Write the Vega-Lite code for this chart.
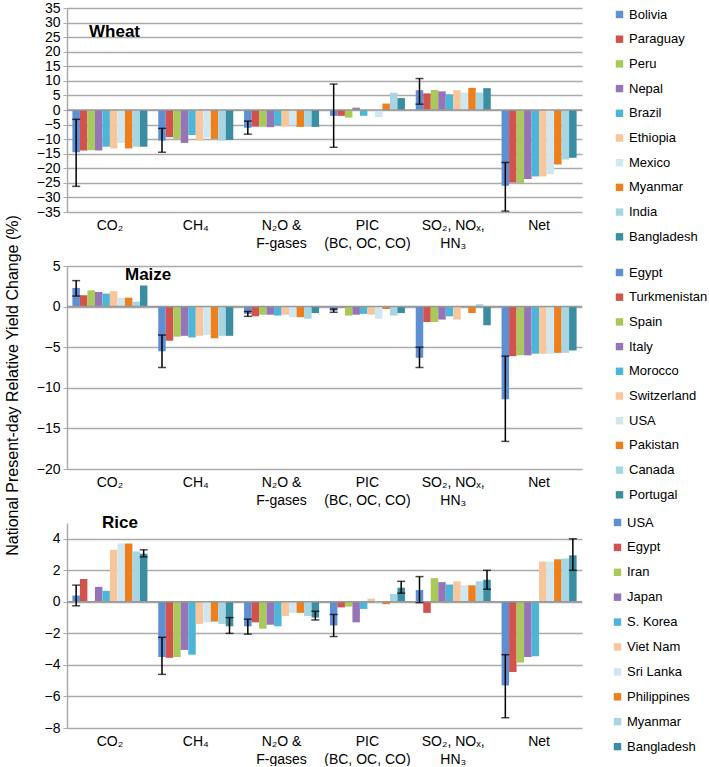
{
  "$schema": "https://vega.github.io/schema/vega-lite/v6.json",
  "background": "white",
  "padding": {"left": 4, "top": 1, "right": 0, "bottom": 0},
  "config": {"font": "Liberation Sans", "view": {"stroke": null}},
  "spacing": 54,
  "bounds": "flush",
  "resolve": {"scale": {"color": "independent", "xOffset": "independent", "y": "independent", "x": "independent"}, "legend": {"color": "independent"}},
  "vconcat": [
    {
      "width": 515, "height": 204,
      "title": {"text": "Wheat", "anchor": "start", "frame": "group", "offset": -40, "dx": 22, "fontSize": 17, "fontWeight": "bold", "color": "#000"},
      "data": {"values": [
        {"c":"CO₂","n":"Bolivia","v":-14.5,"lo":-26.2,"hi":-3.2},{"c":"CO₂","n":"Paraguay","v":-13.9},{"c":"CO₂","n":"Peru","v":-13.8},{"c":"CO₂","n":"Nepal","v":-13.9},{"c":"CO₂","n":"Brazil","v":-12.6},{"c":"CO₂","n":"Ethiopia","v":-13.2},{"c":"CO₂","n":"Mexico","v":-11.3},{"c":"CO₂","n":"Myanmar","v":-13.2},{"c":"CO₂","n":"India","v":-12.6},{"c":"CO₂","n":"Bangladesh","v":-12.6},
        {"c":"CH₄","n":"Bolivia","v":-10.5,"lo":-14.5,"hi":-6.3},{"c":"CH₄","n":"Paraguay","v":-9.3},{"c":"CH₄","n":"Peru","v":-9.9},{"c":"CH₄","n":"Nepal","v":-11.3},{"c":"CH₄","n":"Brazil","v":-8.6},{"c":"CH₄","n":"Ethiopia","v":-10.5},{"c":"CH₄","n":"Mexico","v":-9.5},{"c":"CH₄","n":"Myanmar","v":-9.9},{"c":"CH₄","n":"India","v":-10.5},{"c":"CH₄","n":"Bangladesh","v":-10.3},
        {"c":"N₂O &|F-gases","n":"Bolivia","v":-6.1,"lo":-8.3,"hi":-3.8},{"c":"N₂O &|F-gases","n":"Paraguay","v":-5.7},{"c":"N₂O &|F-gases","n":"Peru","v":-5.7},{"c":"N₂O &|F-gases","n":"Nepal","v":-5.9},{"c":"N₂O &|F-gases","n":"Brazil","v":-5.2},{"c":"N₂O &|F-gases","n":"Ethiopia","v":-5.7},{"c":"N₂O &|F-gases","n":"Mexico","v":-5.3},{"c":"N₂O &|F-gases","n":"Myanmar","v":-5.8},{"c":"N₂O &|F-gases","n":"India","v":-5.7},{"c":"N₂O &|F-gases","n":"Bangladesh","v":-5.8},
        {"c":"PIC|(BC, OC, CO)","n":"Bolivia","v":-2.0,"lo":-12.8,"hi":8.9},{"c":"PIC|(BC, OC, CO)","n":"Paraguay","v":-2.0},{"c":"PIC|(BC, OC, CO)","n":"Peru","v":-2.6},{"c":"PIC|(BC, OC, CO)","n":"Nepal","v":0.8},{"c":"PIC|(BC, OC, CO)","n":"Brazil","v":-2.0},{"c":"PIC|(BC, OC, CO)","n":"Ethiopia","v":-0.3},{"c":"PIC|(BC, OC, CO)","n":"Mexico","v":-2.4},{"c":"PIC|(BC, OC, CO)","n":"Myanmar","v":2.2},{"c":"PIC|(BC, OC, CO)","n":"India","v":5.9},{"c":"PIC|(BC, OC, CO)","n":"Bangladesh","v":4.1},
        {"c":"SO₂, NOₓ,|HN₃","n":"Bolivia","v":6.8,"lo":2.0,"hi":10.8},{"c":"SO₂, NOₓ,|HN₃","n":"Paraguay","v":5.7},{"c":"SO₂, NOₓ,|HN₃","n":"Peru","v":6.9},{"c":"SO₂, NOₓ,|HN₃","n":"Nepal","v":6.4},{"c":"SO₂, NOₓ,|HN₃","n":"Brazil","v":5.4},{"c":"SO₂, NOₓ,|HN₃","n":"Ethiopia","v":6.8},{"c":"SO₂, NOₓ,|HN₃","n":"Mexico","v":6.0},{"c":"SO₂, NOₓ,|HN₃","n":"Myanmar","v":7.6},{"c":"SO₂, NOₓ,|HN₃","n":"India","v":6.0},{"c":"SO₂, NOₓ,|HN₃","n":"Bangladesh","v":7.5},
        {"c":"Net","n":"Bolivia","v":-26.0,"lo":-34.7,"hi":-18.0},{"c":"Net","n":"Paraguay","v":-24.9},{"c":"Net","n":"Peru","v":-25.1},{"c":"Net","n":"Nepal","v":-23.7},{"c":"Net","n":"Brazil","v":-22.8},{"c":"Net","n":"Ethiopia","v":-22.8},{"c":"Net","n":"Mexico","v":-22.0},{"c":"Net","n":"Myanmar","v":-18.7},{"c":"Net","n":"India","v":-17.0},{"c":"Net","n":"Bangladesh","v":-16.4}
      ]},
      "layer": [
        {"mark": {"type": "bar"},
         "encoding": {
           "x": {"field": "c", "type": "nominal", "sort": ["CO₂","CH₄","N₂O &|F-gases","PIC|(BC, OC, CO)","SO₂, NOₓ,|HN₃","Net"], "scale": {"paddingInner": 0.126, "paddingOuter": 0.063},
                 "axis": {"title": null, "labelAngle": 0, "domain": false, "ticks": false, "labelExpr": "split(datum.label, '|')", "labelFontSize": 14, "labelPadding": 6, "labelColor": "#000", "labelLineHeight": 18}},
           "xOffset": {"field": "n", "type": "nominal", "sort": ["Bolivia","Paraguay","Peru","Nepal","Brazil","Ethiopia","Mexico","Myanmar","India","Bangladesh"], "scale": {"paddingInner": 0, "paddingOuter": 0}},
           "y": {"field": "v", "type": "quantitative", "scale": {"domain": [-35, 35], "nice": false},
                 "axis": {"title": "National Present-day Relative Yield Change (%)", "titleFontSize": 16, "titleFontWeight": "normal", "titleColor": "#000", "titlePadding": 16, "titleY": 377, "values": [-35,-30,-25,-20,-15,-10,-5,0,5,10,15,20,25,30,35], "format": "d", "tickCount": 30, "labelOverlap": false, "grid": true, "gridColor": "#ababab", "gridWidth": 1.5, "domainColor": "#ababab", "domainWidth": 1.5, "tickColor": "#ababab", "tickSize": 4, "labelFontSize": 14, "labelColor": "#000", "labelPadding": 3}},
           "color": {"field": "n", "type": "nominal", "sort": ["Bolivia","Paraguay","Peru","Nepal","Brazil","Ethiopia","Mexico","Myanmar","India","Bangladesh"],
                     "scale": {"range": ["#5e8fd3","#d2524e","#a9c95b","#9575b8","#4db6d6","#f8c69a","#cfe7f0","#ee7f1d","#a6d6e4","#3b8da2"]},
                     "legend": {"title": null, "symbolType": "square", "symbolSize": 55, "labelFontSize": 13, "labelColor": "#000", "rowPadding": 10.7, "offset": 31, "labelOffset": 3, "padding": 0}}
         }},
        {"data": {"values": [{"z": 0}]}, "mark": {"type": "rule", "color": "#9a9a9a", "strokeWidth": 1.5}, "encoding": {"y": {"field": "z", "type": "quantitative"}}},
        {"transform": [{"filter": "isValid(datum.lo)"}], "mark": {"type": "rule", "color": "#000", "strokeWidth": 1.5},
         "encoding": {"x": {"field": "c", "type": "nominal", "sort": ["CO₂","CH₄","N₂O &|F-gases","PIC|(BC, OC, CO)","SO₂, NOₓ,|HN₃","Net"]},
                      "xOffset": {"field": "n", "type": "nominal", "sort": ["Bolivia","Paraguay","Peru","Nepal","Brazil","Ethiopia","Mexico","Myanmar","India","Bangladesh"]},
                      "y": {"field": "lo", "type": "quantitative"}, "y2": {"field": "hi"}}},
        {"transform": [{"filter": "isValid(datum.lo)"}], "mark": {"type": "tick", "orient": "horizontal", "color": "#000", "size": 8, "thickness": 1.5},
         "encoding": {"x": {"field": "c", "type": "nominal", "sort": ["CO₂","CH₄","N₂O &|F-gases","PIC|(BC, OC, CO)","SO₂, NOₓ,|HN₃","Net"]},
                      "xOffset": {"field": "n", "type": "nominal", "sort": ["Bolivia","Paraguay","Peru","Nepal","Brazil","Ethiopia","Mexico","Myanmar","India","Bangladesh"]},
                      "y": {"field": "lo", "type": "quantitative"}}},
        {"transform": [{"filter": "isValid(datum.hi)"}], "mark": {"type": "tick", "orient": "horizontal", "color": "#000", "size": 8, "thickness": 1.5},
         "encoding": {"x": {"field": "c", "type": "nominal", "sort": ["CO₂","CH₄","N₂O &|F-gases","PIC|(BC, OC, CO)","SO₂, NOₓ,|HN₃","Net"]},
                      "xOffset": {"field": "n", "type": "nominal", "sort": ["Bolivia","Paraguay","Peru","Nepal","Brazil","Ethiopia","Mexico","Myanmar","India","Bangladesh"]},
                      "y": {"field": "hi", "type": "quantitative"}}}
      ]
    },
    {
      "width": 515, "height": 203,
      "title": {"text": "Maize", "anchor": "start", "frame": "group", "offset": -25, "dx": 58, "fontSize": 17, "fontWeight": "bold", "color": "#000"},
      "data": {"values": [
        {"c":"CO₂","n":"Egypt","v":2.3,"lo":1.3,"hi":3.2},{"c":"CO₂","n":"Turkmenistan","v":1.4},{"c":"CO₂","n":"Spain","v":2.0},{"c":"CO₂","n":"Italy","v":1.8},{"c":"CO₂","n":"Morocco","v":1.6},{"c":"CO₂","n":"Switzerland","v":1.9},{"c":"CO₂","n":"USA","v":1.1},{"c":"CO₂","n":"Pakistan","v":1.1},{"c":"CO₂","n":"Canada","v":0.6},{"c":"CO₂","n":"Portugal","v":2.6},
        {"c":"CH₄","n":"Egypt","v":-5.5,"lo":-7.5,"hi":-3.5},{"c":"CH₄","n":"Turkmenistan","v":-4.2},{"c":"CH₄","n":"Spain","v":-3.7},{"c":"CH₄","n":"Italy","v":-3.6},{"c":"CH₄","n":"Morocco","v":-3.8},{"c":"CH₄","n":"Switzerland","v":-3.6},{"c":"CH₄","n":"USA","v":-3.5},{"c":"CH₄","n":"Pakistan","v":-3.9},{"c":"CH₄","n":"Canada","v":-3.6},{"c":"CH₄","n":"Portugal","v":-3.6},
        {"c":"N₂O &|F-gases","n":"Egypt","v":-0.9,"lo":-1.2,"hi":-0.6},{"c":"N₂O &|F-gases","n":"Turkmenistan","v":-1.2},{"c":"N₂O &|F-gases","n":"Spain","v":-1.0},{"c":"N₂O &|F-gases","n":"Italy","v":-1.0},{"c":"N₂O &|F-gases","n":"Morocco","v":-1.1},{"c":"N₂O &|F-gases","n":"Switzerland","v":-1.0},{"c":"N₂O &|F-gases","n":"USA","v":-1.3},{"c":"N₂O &|F-gases","n":"Pakistan","v":-1.3},{"c":"N₂O &|F-gases","n":"Canada","v":-1.5},{"c":"N₂O &|F-gases","n":"Portugal","v":-0.8},
        {"c":"PIC|(BC, OC, CO)","n":"Egypt","v":-0.5,"lo":-0.7,"hi":-0.3},{"c":"PIC|(BC, OC, CO)","n":"Turkmenistan","v":-0.1},{"c":"PIC|(BC, OC, CO)","n":"Spain","v":-1.1},{"c":"PIC|(BC, OC, CO)","n":"Italy","v":-1.0},{"c":"PIC|(BC, OC, CO)","n":"Morocco","v":-0.9},{"c":"PIC|(BC, OC, CO)","n":"Switzerland","v":-1.0},{"c":"PIC|(BC, OC, CO)","n":"USA","v":-1.5},{"c":"PIC|(BC, OC, CO)","n":"Pakistan","v":-0.3},{"c":"PIC|(BC, OC, CO)","n":"Canada","v":-1.1},{"c":"PIC|(BC, OC, CO)","n":"Portugal","v":-0.8},
        {"c":"SO₂, NOₓ,|HN₃","n":"Egypt","v":-6.3,"lo":-7.5,"hi":-5.0},{"c":"SO₂, NOₓ,|HN₃","n":"Turkmenistan","v":-1.9},{"c":"SO₂, NOₓ,|HN₃","n":"Spain","v":-1.9},{"c":"SO₂, NOₓ,|HN₃","n":"Italy","v":-1.6},{"c":"SO₂, NOₓ,|HN₃","n":"Morocco","v":-1.2},{"c":"SO₂, NOₓ,|HN₃","n":"Switzerland","v":-1.6},{"c":"SO₂, NOₓ,|HN₃","n":"USA","v":0.1},{"c":"SO₂, NOₓ,|HN₃","n":"Pakistan","v":-0.8},{"c":"SO₂, NOₓ,|HN₃","n":"Canada","v":0.3},{"c":"SO₂, NOₓ,|HN₃","n":"Portugal","v":-2.3},
        {"c":"Net","n":"Egypt","v":-11.4,"lo":-16.6,"hi":-6.1},{"c":"Net","n":"Turkmenistan","v":-6.1},{"c":"Net","n":"Spain","v":-6.0},{"c":"Net","n":"Italy","v":-6.0},{"c":"Net","n":"Morocco","v":-5.8},{"c":"Net","n":"Switzerland","v":-5.8},{"c":"Net","n":"USA","v":-5.8},{"c":"Net","n":"Pakistan","v":-5.7},{"c":"Net","n":"Canada","v":-5.7},{"c":"Net","n":"Portugal","v":-5.4}
      ]},
      "layer": [
        {"mark": {"type": "bar"},
         "encoding": {
           "x": {"field": "c", "type": "nominal", "sort": ["CO₂","CH₄","N₂O &|F-gases","PIC|(BC, OC, CO)","SO₂, NOₓ,|HN₃","Net"], "scale": {"paddingInner": 0.126, "paddingOuter": 0.063},
                 "axis": {"title": null, "labelAngle": 0, "domain": false, "ticks": false, "labelExpr": "split(datum.label, '|')", "labelFontSize": 14, "labelPadding": 6, "labelColor": "#000", "labelLineHeight": 18}},
           "xOffset": {"field": "n", "type": "nominal", "sort": ["Egypt","Turkmenistan","Spain","Italy","Morocco","Switzerland","USA","Pakistan","Canada","Portugal"], "scale": {"paddingInner": 0, "paddingOuter": 0}},
           "y": {"field": "v", "type": "quantitative", "scale": {"domain": [-20, 5], "nice": false},
                 "axis": {"title": null, "values": [-20,-15,-10,-5,0,5], "format": "d", "tickCount": 30, "labelOverlap": false, "grid": true, "gridColor": "#ababab", "gridWidth": 1.5, "domainColor": "#ababab", "domainWidth": 1.5, "tickColor": "#ababab", "tickSize": 4, "labelFontSize": 14, "labelColor": "#000", "labelPadding": 3}},
           "color": {"field": "n", "type": "nominal", "sort": ["Egypt","Turkmenistan","Spain","Italy","Morocco","Switzerland","USA","Pakistan","Canada","Portugal"],
                     "scale": {"range": ["#5e8fd3","#d2524e","#a9c95b","#9575b8","#4db6d6","#f8c69a","#cfe7f0","#ee7f1d","#a6d6e4","#3b8da2"]},
                     "legend": {"title": null, "symbolType": "square", "symbolSize": 55, "labelFontSize": 13, "labelColor": "#000", "rowPadding": 10.7, "offset": 31, "labelOffset": 3, "padding": 0}}
         }},
        {"data": {"values": [{"z": 0}]}, "mark": {"type": "rule", "color": "#9a9a9a", "strokeWidth": 1.5}, "encoding": {"y": {"field": "z", "type": "quantitative"}}},
        {"transform": [{"filter": "isValid(datum.lo)"}], "mark": {"type": "rule", "color": "#000", "strokeWidth": 1.5},
         "encoding": {"x": {"field": "c", "type": "nominal", "sort": ["CO₂","CH₄","N₂O &|F-gases","PIC|(BC, OC, CO)","SO₂, NOₓ,|HN₃","Net"]},
                      "xOffset": {"field": "n", "type": "nominal", "sort": ["Egypt","Turkmenistan","Spain","Italy","Morocco","Switzerland","USA","Pakistan","Canada","Portugal"]},
                      "y": {"field": "lo", "type": "quantitative"}, "y2": {"field": "hi"}}},
        {"transform": [{"filter": "isValid(datum.lo)"}], "mark": {"type": "tick", "orient": "horizontal", "color": "#000", "size": 8, "thickness": 1.5},
         "encoding": {"x": {"field": "c", "type": "nominal", "sort": ["CO₂","CH₄","N₂O &|F-gases","PIC|(BC, OC, CO)","SO₂, NOₓ,|HN₃","Net"]},
                      "xOffset": {"field": "n", "type": "nominal", "sort": ["Egypt","Turkmenistan","Spain","Italy","Morocco","Switzerland","USA","Pakistan","Canada","Portugal"]},
                      "y": {"field": "lo", "type": "quantitative"}}},
        {"transform": [{"filter": "isValid(datum.hi)"}], "mark": {"type": "tick", "orient": "horizontal", "color": "#000", "size": 8, "thickness": 1.5},
         "encoding": {"x": {"field": "c", "type": "nominal", "sort": ["CO₂","CH₄","N₂O &|F-gases","PIC|(BC, OC, CO)","SO₂, NOₓ,|HN₃","Net"]},
                      "xOffset": {"field": "n", "type": "nominal", "sort": ["Egypt","Turkmenistan","Spain","Italy","Morocco","Switzerland","USA","Pakistan","Canada","Portugal"]},
                      "y": {"field": "hi", "type": "quantitative"}}}
      ]
    },
    {
      "width": 515, "height": 205,
      "title": {"text": "Rice", "anchor": "start", "frame": "group", "offset": -16, "dx": 35, "fontSize": 17, "fontWeight": "bold", "color": "#000"},
      "data": {"values": [
        {"c":"CO₂","n":"USA","v":0.4,"lo":-0.25,"hi":1.06},{"c":"CO₂","n":"Egypt","v":1.45},{"c":"CO₂","n":"Iran","v":0.05},{"c":"CO₂","n":"Japan","v":0.95},{"c":"CO₂","n":"S. Korea","v":0.7},{"c":"CO₂","n":"Viet Nam","v":3.3},{"c":"CO₂","n":"Sri Lanka","v":3.7},{"c":"CO₂","n":"Philippines","v":3.7},{"c":"CO₂","n":"Myanmar","v":3.2},{"c":"CO₂","n":"Bangladesh","v":3.05,"lo":2.85,"hi":3.3},
        {"c":"CH₄","n":"USA","v":-3.5,"lo":-4.6,"hi":-2.25},{"c":"CH₄","n":"Egypt","v":-3.55},{"c":"CH₄","n":"Iran","v":-3.5},{"c":"CH₄","n":"Japan","v":-3.05},{"c":"CH₄","n":"S. Korea","v":-3.35},{"c":"CH₄","n":"Viet Nam","v":-1.4},{"c":"CH₄","n":"Sri Lanka","v":-1.3},{"c":"CH₄","n":"Philippines","v":-1.25},{"c":"CH₄","n":"Myanmar","v":-1.4},{"c":"CH₄","n":"Bangladesh","v":-1.55,"lo":-2.0,"hi":-1.0},
        {"c":"N₂O &|F-gases","n":"USA","v":-1.55,"lo":-2.05,"hi":-1.1},{"c":"N₂O &|F-gases","n":"Egypt","v":-1.3},{"c":"N₂O &|F-gases","n":"Iran","v":-1.7},{"c":"N₂O &|F-gases","n":"Japan","v":-1.45},{"c":"N₂O &|F-gases","n":"S. Korea","v":-1.55},{"c":"N₂O &|F-gases","n":"Viet Nam","v":-0.9},{"c":"N₂O &|F-gases","n":"Sri Lanka","v":-0.7},{"c":"N₂O &|F-gases","n":"Philippines","v":-0.7},{"c":"N₂O &|F-gases","n":"Myanmar","v":-0.9},{"c":"N₂O &|F-gases","n":"Bangladesh","v":-1.0,"lo":-1.15,"hi":-0.6},
        {"c":"PIC|(BC, OC, CO)","n":"USA","v":-1.5,"lo":-2.2,"hi":-0.8},{"c":"PIC|(BC, OC, CO)","n":"Egypt","v":-0.35},{"c":"PIC|(BC, OC, CO)","n":"Iran","v":-0.3},{"c":"PIC|(BC, OC, CO)","n":"Japan","v":-1.3},{"c":"PIC|(BC, OC, CO)","n":"S. Korea","v":-0.45},{"c":"PIC|(BC, OC, CO)","n":"Viet Nam","v":0.2},{"c":"PIC|(BC, OC, CO)","n":"Sri Lanka","v":-0.15},{"c":"PIC|(BC, OC, CO)","n":"Philippines","v":-0.15},{"c":"PIC|(BC, OC, CO)","n":"Myanmar","v":0.5},{"c":"PIC|(BC, OC, CO)","n":"Bangladesh","v":0.9,"lo":0.55,"hi":1.3},
        {"c":"SO₂, NOₓ,|HN₃","n":"USA","v":0.75,"lo":-0.05,"hi":1.6},{"c":"SO₂, NOₓ,|HN₃","n":"Egypt","v":-0.7},{"c":"SO₂, NOₓ,|HN₃","n":"Iran","v":1.5},{"c":"SO₂, NOₓ,|HN₃","n":"Japan","v":1.25},{"c":"SO₂, NOₓ,|HN₃","n":"S. Korea","v":1.1},{"c":"SO₂, NOₓ,|HN₃","n":"Viet Nam","v":1.3},{"c":"SO₂, NOₓ,|HN₃","n":"Sri Lanka","v":1.05},{"c":"SO₂, NOₓ,|HN₃","n":"Philippines","v":1.05},{"c":"SO₂, NOₓ,|HN₃","n":"Myanmar","v":1.3},{"c":"SO₂, NOₓ,|HN₃","n":"Bangladesh","v":1.4,"lo":0.8,"hi":2.0},
        {"c":"Net","n":"USA","v":-5.3,"lo":-7.35,"hi":-3.35},{"c":"Net","n":"Egypt","v":-4.45},{"c":"Net","n":"Iran","v":-3.85},{"c":"Net","n":"Japan","v":-3.5},{"c":"Net","n":"S. Korea","v":-3.45},{"c":"Net","n":"Viet Nam","v":2.55},{"c":"Net","n":"Sri Lanka","v":2.55},{"c":"Net","n":"Philippines","v":2.7},{"c":"Net","n":"Myanmar","v":2.75},{"c":"Net","n":"Bangladesh","v":2.95,"lo":2.0,"hi":4.0}
      ]},
      "layer": [
        {"mark": {"type": "bar"},
         "encoding": {
           "x": {"field": "c", "type": "nominal", "sort": ["CO₂","CH₄","N₂O &|F-gases","PIC|(BC, OC, CO)","SO₂, NOₓ,|HN₃","Net"], "scale": {"paddingInner": 0.126, "paddingOuter": 0.063},
                 "axis": {"title": null, "labelAngle": 0, "domain": false, "ticks": false, "labelExpr": "split(datum.label, '|')", "labelFontSize": 14, "labelPadding": 6, "labelColor": "#000", "labelLineHeight": 18}},
           "xOffset": {"field": "n", "type": "nominal", "sort": ["USA","Egypt","Iran","Japan","S. Korea","Viet Nam","Sri Lanka","Philippines","Myanmar","Bangladesh"], "scale": {"paddingInner": 0, "paddingOuter": 0}},
           "y": {"field": "v", "type": "quantitative", "scale": {"domain": [-8, 5], "nice": false},
                 "axis": {"title": null, "values": [-8,-6,-4,-2,0,2,4], "format": "d", "tickCount": 30, "labelOverlap": false, "grid": true, "gridColor": "#ababab", "gridWidth": 1.5, "domainColor": "#ababab", "domainWidth": 1.5, "tickColor": "#ababab", "tickSize": 4, "labelFontSize": 14, "labelColor": "#000", "labelPadding": 3}},
           "color": {"field": "n", "type": "nominal", "sort": ["USA","Egypt","Iran","Japan","S. Korea","Viet Nam","Sri Lanka","Philippines","Myanmar","Bangladesh"],
                     "scale": {"range": ["#5e8fd3","#d2524e","#a9c95b","#9575b8","#4db6d6","#f8c69a","#cfe7f0","#ee7f1d","#a6d6e4","#3b8da2"]},
                     "legend": {"title": null, "symbolType": "square", "symbolSize": 55, "labelFontSize": 13, "labelColor": "#000", "rowPadding": 10.9, "orient": "none", "legendX": 544, "legendY": -7, "labelOffset": 3, "padding": 0}}
         }},
        {"data": {"values": [{"z": 0}]}, "mark": {"type": "rule", "color": "#9a9a9a", "strokeWidth": 1.5}, "encoding": {"y": {"field": "z", "type": "quantitative"}}},
        {"transform": [{"filter": "isValid(datum.lo)"}], "mark": {"type": "rule", "color": "#000", "strokeWidth": 1.5},
         "encoding": {"x": {"field": "c", "type": "nominal", "sort": ["CO₂","CH₄","N₂O &|F-gases","PIC|(BC, OC, CO)","SO₂, NOₓ,|HN₃","Net"]},
                      "xOffset": {"field": "n", "type": "nominal", "sort": ["USA","Egypt","Iran","Japan","S. Korea","Viet Nam","Sri Lanka","Philippines","Myanmar","Bangladesh"]},
                      "y": {"field": "lo", "type": "quantitative"}, "y2": {"field": "hi"}}},
        {"transform": [{"filter": "isValid(datum.lo)"}], "mark": {"type": "tick", "orient": "horizontal", "color": "#000", "size": 8, "thickness": 1.5},
         "encoding": {"x": {"field": "c", "type": "nominal", "sort": ["CO₂","CH₄","N₂O &|F-gases","PIC|(BC, OC, CO)","SO₂, NOₓ,|HN₃","Net"]},
                      "xOffset": {"field": "n", "type": "nominal", "sort": ["USA","Egypt","Iran","Japan","S. Korea","Viet Nam","Sri Lanka","Philippines","Myanmar","Bangladesh"]},
                      "y": {"field": "lo", "type": "quantitative"}}},
        {"transform": [{"filter": "isValid(datum.hi)"}], "mark": {"type": "tick", "orient": "horizontal", "color": "#000", "size": 8, "thickness": 1.5},
         "encoding": {"x": {"field": "c", "type": "nominal", "sort": ["CO₂","CH₄","N₂O &|F-gases","PIC|(BC, OC, CO)","SO₂, NOₓ,|HN₃","Net"]},
                      "xOffset": {"field": "n", "type": "nominal", "sort": ["USA","Egypt","Iran","Japan","S. Korea","Viet Nam","Sri Lanka","Philippines","Myanmar","Bangladesh"]},
                      "y": {"field": "hi", "type": "quantitative"}}}
      ]
    }
  ]
}
